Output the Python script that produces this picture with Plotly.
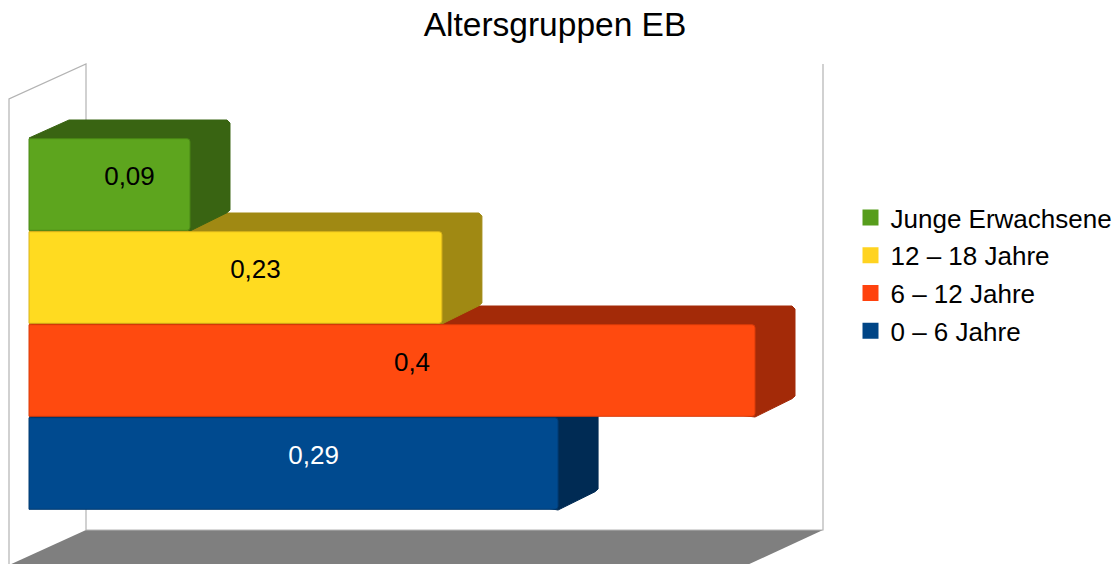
import plotly.graph_objects as go

categories = ["0 – 6 Jahre", "6 – 12 Jahre", "12 – 18 Jahre", "Junge Erwachsene"]
values = [0.2915, 0.4, 0.2275, 0.0887]
value_labels = ["0,29", "0,4", "0,23", "0,09"]
front_colors = ["#004A8F", "#FF4A0F", "#FFDB20", "#5DA51E"]
face_colors = ["#002B54", "#A32A08", "#A08913", "#396412"]
edge_colors = ["#003A70", "#D93A08", "#D9B41A", "#4A8816"]
legend_colors = ["#004586", "#FF420E", "#FFD320", "#579D1C"]
label_colors = ["#FFFFFF", "#000000", "#000000", "#000000"]

W, H = 1118, 564
X0, XS = 29.0, 1815.0      # pixel of value 0, pixels per unit
Y0, YS = 463.5, 93.0       # pixel of category 0, pixels per category
DX, DY = 40 / XS, 18 / YS  # depth of the 3D bars
CX, CY = 3 / XS, 3 / YS    # small chamfer on the depth corners
LABEL_SHIFT = 2.5 / YS
FONT = "Liberation Sans"


def px(x):
    return (x - X0) / XS


def py(y):
    return (Y0 - y) / YS


x_range = [px(0), px(W)]
y_range = [py(H), py(0)]

fig = go.Figure()

# floor and walls (behind everything)
fig.add_trace(go.Scatter(
    x=[px(86), px(823), px(745), px(7)], y=[py(530), py(530), py(566), py(566)],
    mode="lines", fill="toself", fillcolor="#7F7F7F", line=dict(width=0),
    showlegend=False, hoverinfo="skip"))
fig.add_trace(go.Scatter(
    x=[px(9), px(9), px(86), px(86), px(823), px(823)],
    y=[py(566), py(99), py(64), py(530), py(530), py(64)],
    mode="lines", line=dict(color="#B3B3B3", width=1.2),
    showlegend=False, hoverinfo="skip"))

# depth faces, lowest category first so each one overlaps the one below
for i, v in enumerate(values):
    b, t = i - 0.5, i + 0.5
    fig.add_trace(go.Scatter(
        x=[0, DX - CX, DX, v + DX - CX, v + DX, v + DX, v + DX - CX, v, 0],
        y=[t, t + DY - CY * 0.3, t + DY, t + DY, t + DY - CY, b + DY + CY,
           b + DY + CY * 0.1, b, t],
        mode="lines", fill="toself", fillcolor=face_colors[i],
        line=dict(color=face_colors[i], width=1),
        showlegend=False, hoverinfo="skip"))

# front faces on an overlaying pair of axes so they sit above the depth faces
for i, v in enumerate(values):
    fig.add_trace(go.Bar(
        x=[v], y=[i], orientation="h", width=0.985,
        marker=dict(color=front_colors[i], cornerradius=3,
                    line=dict(color=edge_colors[i], width=1)),
        xaxis="x2", yaxis="y2", showlegend=False, hoverinfo="skip"))

# legend entries, top to bottom
for i in reversed(range(len(categories))):
    fig.add_trace(go.Bar(
        x=[None], y=[None], orientation="h", name=categories[i],
        legendgroup=categories[i],
        marker=dict(color=legend_colors[i], line=dict(color=legend_colors[i], width=4)),
        xaxis="x2", yaxis="y2", hoverinfo="skip"))

# value labels, centred on the whole block including its depth
for i, v in enumerate(values):
    fig.add_trace(go.Scatter(
        x=[(v + DX) / 2], y=[i + DY / 2 - LABEL_SHIFT], mode="text",
        text=[value_labels[i]], textposition="middle center",
        textfont=dict(family=FONT, size=26, color=label_colors[i]),
        xaxis="x2", yaxis="y2", showlegend=False, hoverinfo="skip"))

axis = dict(visible=False, fixedrange=True)
fig.update_layout(
    width=W, height=H, margin=dict(l=0, r=0, t=0, b=0),
    paper_bgcolor="white", plot_bgcolor="white", barmode="overlay",
    font=dict(family=FONT, color="#000000"),
    title=dict(text="Altersgruppen EB", x=555 / W, xanchor="center",
               y=1 - 24 / H, yanchor="middle",
               font=dict(family=FONT, size=33.5, color="#000000")),
    xaxis=dict(range=x_range, **axis),
    yaxis=dict(range=y_range, **axis),
    xaxis2=dict(range=x_range, overlaying="x", **axis),
    yaxis2=dict(range=y_range, overlaying="y", **axis),
    legend=dict(x=850.5 / W, y=1 - 194 / H, xanchor="left", yanchor="top",
                traceorder="grouped", tracegroupgap=1, bgcolor="rgba(0,0,0,0)",
                font=dict(family=FONT, size=26, color="#000000"),
                itemclick=False, itemdoubleclick=False),
)

fig.write_html(
    "out.html",
    config={"displayModeBar": False},
    post_script="document.body.style.margin='0';document.documentElement.style.overflow='hidden';",
)
